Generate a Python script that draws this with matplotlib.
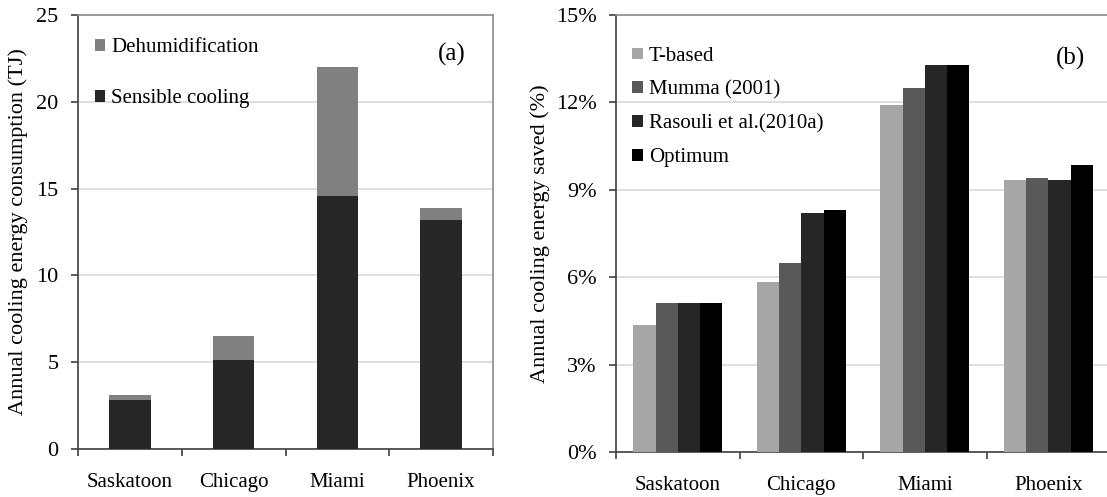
import numpy as np
import matplotlib
matplotlib.use("Agg")
from matplotlib import pyplot as plt
from matplotlib.ticker import FuncFormatter, MultipleLocator

# cidades e valores
cidades = ["Saskatoon", "Chicago", "Miami", "Phoenix"]

# (a) consumo anual de arrefecimento [TJ]
sensivel = [2.8, 5.1, 14.6, 13.2]
desumidificacao = [0.3, 1.4, 7.4, 0.7]

# (b) energia poupada [%]
metodos = ["T-based", "Mumma (2001)", "Rasouli et al.(2010a)", "Optimum"]
poupanca = {
    "T-based": [4.35, 5.85, 11.9, 9.35],
    "Mumma (2001)": [5.1, 6.5, 12.5, 9.4],
    "Rasouli et al.(2010a)": [5.1, 8.2, 13.3, 9.35],
    "Optimum": [5.1, 8.3, 13.3, 9.85],
}
cores_b = ["#a6a6a6", "#595959", "#262626", "#000000"]

plt.rcParams['font.family'] = ['Liberation Serif', 'DejaVu Serif']
plt.rcParams['font.size'] = 15

fig = plt.figure(figsize=(11.07, 4.97), dpi=100)
ax1 = fig.add_axes([0.0705, 0.0966, 0.3749, 0.8732])
ax2 = fig.add_axes([0.5565, 0.0905, 0.4463, 0.8793])


def arruma_eixo(ax, topo, passo):
    ax.set_xlim(0, 4)
    ax.set_ylim(0, topo)
    ax.yaxis.set_major_locator(MultipleLocator(passo))
    ax.grid(axis="y", color="#d9d9d9", linewidth=1.2, zorder=0)
    ax.set_axisbelow(True)
    for lado in ["top", "right"]:
        ax.spines[lado].set_color("#8c8c8c")
        ax.spines[lado].set_linewidth(1.2)
    for lado in ["left", "bottom"]:
        ax.spines[lado].set_color("#404040")
        ax.spines[lado].set_linewidth(1.2)
    ax.set_xticks(np.arange(4) + 0.5)
    ax.set_xticklabels(cidades, fontsize=15)
    ax.set_xticks(np.arange(5), minor=True)
    ax.tick_params(axis="x", which="major", length=0, pad=17)
    ax.tick_params(axis="x", which="minor", length=5, width=1.2, color="#404040", direction="out")
    ax.tick_params(axis="y", length=5, width=1.2, color="#404040", direction="out", pad=9,
                   labelsize=16)


x = np.arange(len(cidades)) + 0.5

# grafico (a): barras empilhadas
ax1.bar(x, sensivel, width=0.4, color="#262626", label="Sensible cooling", zorder=3)
ax1.bar(x, desumidificacao, width=0.4, bottom=sensivel, color="#808080",
        label="Dehumidification", zorder=3)
arruma_eixo(ax1, 25, 5)
ax1.set_ylabel("Annual cooling energy consumption (TJ)", fontsize=16, labelpad=6)
ax1.text(0.9, 0.91, "(a)", transform=ax1.transAxes, fontsize=18, ha="center", va="center")
h, l = ax1.get_legend_handles_labels()
ax1.legend(h[::-1], l[::-1], loc="upper left", bbox_to_anchor=(-0.005, 0.99), frameon=False,
           handlelength=0.5, handleheight=0.5, handletextpad=0.3, labelspacing=1.55,
           fontsize=15)

# grafico (b): barras agrupadas
largura = 0.18
for i, (metodo, cor) in enumerate(zip(metodos, cores_b)):
    ax2.bar(x + (i - 1.5) * largura, poupanca[metodo], width=largura, color=cor,
            label=metodo, zorder=3)
arruma_eixo(ax2, 15, 3)
ax2.yaxis.set_major_formatter(FuncFormatter(lambda v, p: f"{v:.0f}%"))
ax2.set_ylabel("Annual cooling energy saved (%)", fontsize=16, labelpad=4)
ax2.text(0.92, 0.9, "(b)", transform=ax2.transAxes, fontsize=18, ha="center", va="center")
ax2.legend(loc="upper left", bbox_to_anchor=(-0.005, 0.97), frameon=False,
           handlelength=0.5, handleheight=0.5, handletextpad=0.3, labelspacing=0.7,
           fontsize=15)

fig.savefig("out.png", dpi=100)
